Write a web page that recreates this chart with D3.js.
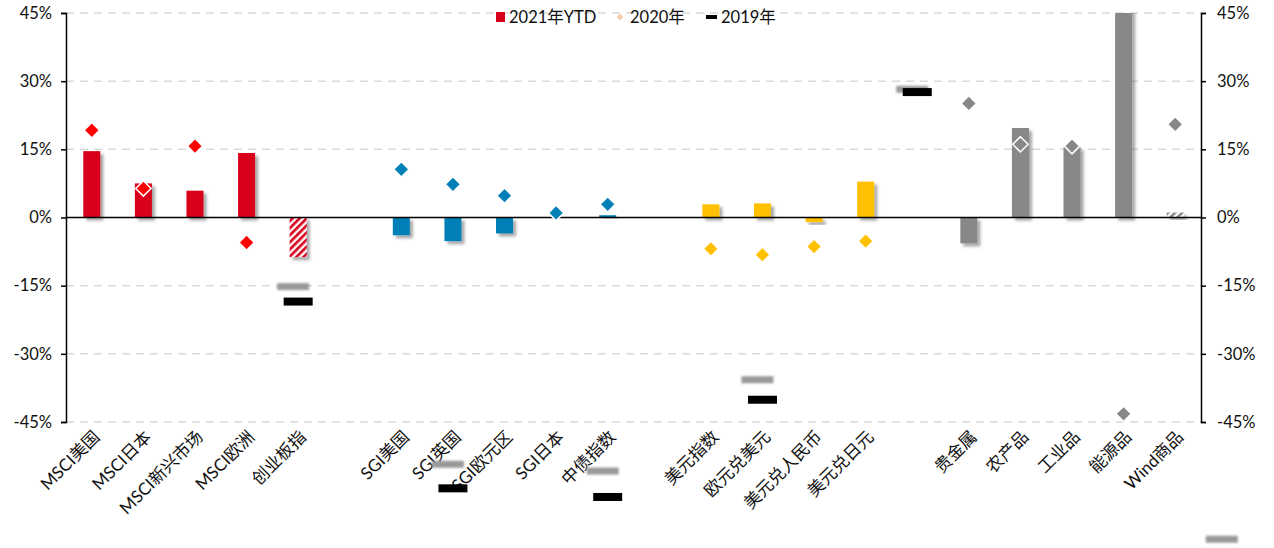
<!DOCTYPE html>
<html>
<head>
<meta charset="utf-8">
<script src="https://cdn.jsdelivr.net/npm/d3@7"></script>
<style>
  body { margin: 0; background: #fff; }
  svg text { font-family: "Lato", "Noto Sans CJK SC", sans-serif; fill: #111; }
</style>
</head>
<body>
<svg id="chart"></svg>
<script>
// categories ("" = empty slot between groups)
var categories = ["MSCI美国", "MSCI日本", "MSCI新兴市场", "MSCI欧洲", "创业板指", "",
  "SGI美国", "SGI英国", "SGI欧元区", "SGI日本", "中债指数", "",
  "美元指数", "欧元兑美元", "美元兑人民币", "美元兑日元", "",
  "贵金属", "农产品", "工业品", "能源品", "Wind商品"];
var groups = ["msci", "msci", "msci", "msci", "msci", null,
  "sgi", "sgi", "sgi", "sgi", "sgi", null,
  "fx", "fx", "fx", "fx", null,
  "cmd", "cmd", "cmd", "cmd", "cmd"];
var hatched = [4, 21];

// 2021 YTD (bars), %
var ytd2021 = [14.6, 7.5, 5.9, 14.2, -8.7, null,
  -3.9, -5.2, -3.5, 0, 0.5, null,
  2.9, 3.1, -1.0, 7.9, null,
  -5.7, 19.7, 15.5, 55, 1.1];
// 2020 (diamonds), %
var y2020 = [19.2, 6.4, 15.7, -5.5, 65, null,
  10.6, 7.3, 4.8, 1.0, 2.9, null,
  -6.9, -8.2, -6.4, -5.2, null,
  25.1, 16.1, 15.7, -43.2, 20.5];
// 2019 (black dashes), %
var y2019 = [null, null, null, null, -18.5, null,
  null, -59.6, null, null, -61.5, null,
  null, -40.1, null, null, 27.6,
  null, null, null, null, null];
// faint grey dashes: slot index and value
var ghostSlots = [4, 7, 10, 13, 16, 22];
var ghostVals = [-15.2, -54.3, -55.8, -35.7, 28.2, -70.8];

var yTicks = [-45, -30, -15, 0, 15, 30, 45];

var width = 1274, height = 548;
var mLeft = 66, mRight = 1201, mTop = 13, mBottom = 422;

var colours = { msci: "#d9001b", sgi: "#0080b6", fx: "#ffc000", cmd: "#888888" };
var dotColours = { msci: "#ff0000", sgi: "#0080b6", fx: "#ffc000", cmd: "#888888" };

var svg = d3.select("#chart").attr("width", width).attr("height", height);

var x = d3.scaleBand().domain(d3.range(categories.length)).range([mLeft, mRight]);
var xSlot = d3.scaleLinear().domain([-0.5, categories.length - 0.5]).range([mLeft, mRight]);
var y = d3.scaleLinear().domain([-45, 45]).range([mBottom, mTop]);

var defs = svg.append("defs");
var sh = defs.append("filter").attr("id", "shadow")
  .attr("x", "-50%").attr("y", "-50%").attr("width", "200%").attr("height", "200%");
sh.append("feDropShadow").attr("dx", 3).attr("dy", 3).attr("stdDeviation", 1.5)
  .attr("flood-color", "#000").attr("flood-opacity", 0.35);
defs.append("filter").attr("id", "blur")
  .attr("x", "-50%").attr("y", "-100%").attr("width", "200%").attr("height", "300%")
  .append("feGaussianBlur").attr("stdDeviation", 1.3);
defs.append("clipPath").attr("id", "plotclip")
  .append("rect").attr("x", mLeft - 20).attr("y", mTop).attr("width", mRight - mLeft + 40).attr("height", mBottom - mTop);

function hatch(id, col) {
  var p = defs.append("pattern").attr("id", id).attr("patternUnits", "userSpaceOnUse")
    .attr("width", 5).attr("height", 5).attr("patternTransform", "rotate(45)");
  p.append("rect").attr("width", 5).attr("height", 5).attr("fill", "#fff");
  p.append("rect").attr("width", 2.6).attr("height", 5).attr("fill", col);
}
hatch("hatch-msci", colours.msci);
hatch("hatch-cmd", colours.cmd);

// gridlines
svg.append("g").selectAll("line")
  .data(yTicks.filter(function (d) { return d !== 0; }))
  .enter().append("line")
  .attr("x1", mLeft).attr("x2", mRight)
  .attr("y1", function (d) { return y(d); }).attr("y2", function (d) { return y(d); })
  .attr("stroke", "#d9d9d9").attr("stroke-width", 1.5).attr("stroke-dasharray", "8,6");

// bars
var bw = x.bandwidth() * 0.33;
svg.append("g").attr("clip-path", "url(#plotclip)").selectAll("rect")
  .data(d3.range(categories.length).filter(function (i) { return ytd2021[i] !== null; }))
  .enter().append("rect")
  .attr("x", function (i) { return x(i) + x.bandwidth() / 2 - bw / 2; })
  .attr("width", bw)
  .attr("y", function (i) { return y(Math.max(0, ytd2021[i])); })
  .attr("height", function (i) { return Math.abs(y(ytd2021[i]) - y(0)); })
  .attr("fill", function (i) {
    return hatched.indexOf(i) >= 0 ? "url(#hatch-" + groups[i] + ")" : colours[groups[i]];
  })
  .attr("filter", "url(#shadow)");

// zero line
svg.append("line").attr("x1", mLeft).attr("x2", mRight)
  .attr("y1", y(0)).attr("y2", y(0)).attr("stroke", "#000").attr("stroke-width", 1.5);

// axes
var axL = svg.append("g").attr("transform", "translate(" + mLeft + ",0)")
  .call(d3.axisLeft(y).tickValues(yTicks).tickSize(5).tickFormat(function (d) { return d + "%"; }));
var axR = svg.append("g").attr("transform", "translate(" + mRight + ",0)")
  .call(d3.axisRight(y).tickValues(yTicks).tickSize(5).tickFormat(function (d) { return d + "%"; }));
[axL, axR].forEach(function (ax) {
  ax.select(".domain").attr("stroke", "#000").attr("stroke-width", 1.5);
  ax.selectAll(".tick line").attr("stroke", "#000").attr("stroke-width", 1.5);
  ax.selectAll(".tick text").style("font-size", "16.5px").attr("fill", "#111");
});
axL.selectAll(".tick text").attr("x", -14);
axR.selectAll(".tick text").attr("x", 16);

// 2020 diamonds
var diamond = d3.symbol().type(d3.symbolDiamond2).size(150);
svg.append("g").attr("clip-path", "url(#plotclip)").selectAll("path")
  .data(d3.range(categories.length).filter(function (i) { return y2020[i] !== null; }))
  .enter().append("path")
  .attr("d", diamond)
  .attr("transform", function (i) { return "translate(" + (x(i) + x.bandwidth() / 2) + "," + y(y2020[i]) + ")"; })
  .attr("fill", function (i) { return dotColours[groups[i]]; })
  .attr("stroke", "#fff").attr("stroke-width", 1.5);

// category labels
svg.append("g").selectAll("text")
  .data(d3.range(categories.length))
  .enter().append("text")
  .attr("transform", function (i) { return "translate(" + (x(i) + x.bandwidth() / 2 + 9) + "," + 438 + ") rotate(-45)"; })
  .attr("text-anchor", "end")
  .style("font-size", "17px")
  .text(function (i) { return categories[i]; });

// faint grey dashes
svg.append("g").selectAll("rect")
  .data(d3.range(ghostSlots.length))
  .enter().append("rect")
  .attr("x", function (k) { return xSlot(ghostSlots[k]) - 5 - 16; })
  .attr("y", function (k) { return y(ghostVals[k]) - 3.5; })
  .attr("width", 32).attr("height", 7)
  .attr("fill", "#999").attr("filter", "url(#blur)");

// 2019 dashes
svg.append("g").selectAll("rect")
  .data(d3.range(categories.length).filter(function (i) { return y2019[i] !== null; }))
  .enter().append("rect")
  .attr("x", function (i) { return x(i) + x.bandwidth() / 2 - 14.5; })
  .attr("y", function (i) { return y(y2019[i]) - 4; })
  .attr("width", 29).attr("height", 8)
  .attr("fill", "#000");

// legend
var lg = svg.append("g").attr("transform", "translate(0,17)");
lg.append("rect").attr("x", 496).attr("y", -5).attr("width", 9).attr("height", 10).attr("fill", colours.msci);
lg.append("text").attr("x", 509).attr("dy", "0.36em").style("font-size", "16.5px").text("2021年YTD");
lg.append("path").attr("d", d3.symbol().type(d3.symbolDiamond2).size(30))
  .attr("transform", "translate(620,0)").attr("fill", "#f8cbad");
lg.append("text").attr("x", 630).attr("dy", "0.36em").style("font-size", "16.5px").text("2020年");
lg.append("rect").attr("x", 706).attr("y", -2).attr("width", 11).attr("height", 4).attr("fill", "#000");
lg.append("text").attr("x", 721).attr("dy", "0.36em").style("font-size", "16.5px").text("2019年");
</script>
</body>
</html>
